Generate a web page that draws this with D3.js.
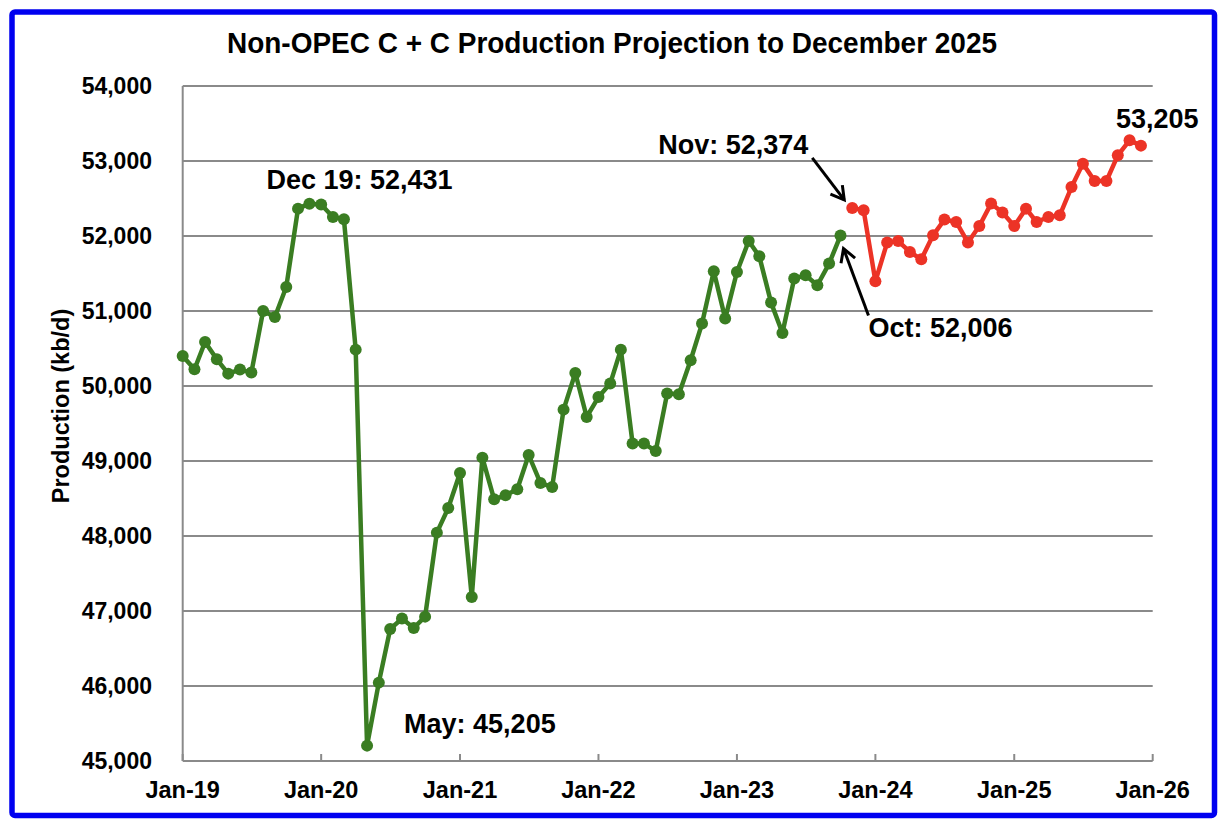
<!DOCTYPE html>
<html>
<head>
<meta charset="utf-8">
<script src="https://d3js.org/d3.v7.min.js"></script>
<style>
    body { margin: 0; background: #fff; }
    svg { display: block; }
    text { font-family: 'Liberation Sans', Arial, sans-serif; font-weight: bold; fill: #000; }
</style>
</head>
<body>
<script>
// monthly production, kb/d
const actualStart = '2019-01';
const actualValues = [
    50400, 50223, 50587, 50356, 50165, 50219, 50179, 51000, 50920, 51320, 52365, 52431,
    52419, 52253, 52223, 50485, 45205, 46045, 46760, 46899, 46773, 46925, 48045, 48373,
    48840, 47187, 49045, 48489, 48543, 48623, 49080, 48707, 48653, 49685, 50173, 49587,
    49853, 50032, 50485, 49232, 49232, 49133, 49899, 49889, 50343, 50832, 51529, 50899,
    51520, 51933, 51729, 51112, 50707, 51432, 51476, 51343, 51632, 52006
];
const projStart = '2023-11';
const projValues = [
    52374, 52343,
    51396, 51912, 51933, 51787, 51689, 52009, 52219, 52187, 51912, 52133, 52432, 52312,
    52133, 52365, 52187, 52253, 52276, 52653, 52965, 52733, 52733, 53076, 53276, 53205
];
const yTicks = [45000, 46000, 47000, 48000, 49000, 50000, 51000, 52000, 53000, 54000];
const xTickYears = [2019, 2020, 2021, 2022, 2023, 2024, 2025, 2026];

const parseMonth = d3.timeParse('%Y-%m');
function toSeries(start, values) {
    const t0 = parseMonth(start);
    return values.map((v, i) => ({ date: d3.timeMonth.offset(t0, i), value: v }));
}
const actual = toSeries(actualStart, actualValues);
const proj = toSeries(projStart, projValues);

const width = 1226, height = 828;
const svg = d3.select('body').append('svg').attr('width', width).attr('height', height);

// blue frame
svg.append('rect')
    .attr('x', 12).attr('y', 12).attr('width', 1202.5).attr('height', 803.5)
    .attr('rx', 3)
    .attr('fill', '#fff').attr('stroke', '#0000f0').attr('stroke-width', 5.5);

const x = d3.scaleTime().domain([new Date(2019, 0, 1), new Date(2026, 0, 1)]).range([182.7, 1152.7]);
const y = d3.scaleLinear().domain([45000, 54000]).range([761, 86]);

// gridlines
svg.append('g').selectAll('line').data(yTicks).join('line')
    .attr('x1', x.range()[0]).attr('x2', x.range()[1])
    .attr('y1', (d) => y(d)).attr('y2', (d) => y(d))
    .attr('stroke', '#8a8a8a').attr('stroke-width', 2);

// left axis line
svg.append('line')
    .attr('x1', x.range()[0]).attr('x2', x.range()[0])
    .attr('y1', y(45000)).attr('y2', y(54000))
    .attr('stroke', '#8a8a8a').attr('stroke-width', 2);

// x tick marks (inside)
const xTickDates = xTickYears.map((yr) => new Date(yr, 0, 1));
svg.append('g').selectAll('line').data(xTickDates).join('line')
    .attr('x1', (d) => x(d)).attr('x2', (d) => x(d))
    .attr('y1', y(45000)).attr('y2', y(45000) - 7)
    .attr('stroke', '#8a8a8a').attr('stroke-width', 2);

// tick labels
svg.append('g').selectAll('text').data(yTicks).join('text')
    .attr('x', 152).attr('y', (d) => y(d) + 8)
    .attr('text-anchor', 'end').attr('font-size', 23)
    .text((d) => d3.format(',')(d));

const fmtX = d3.timeFormat('%b-%y');
svg.append('g').selectAll('text').data(xTickDates).join('text')
    .attr('x', (d) => x(d)).attr('y', 798)
    .attr('text-anchor', 'middle').attr('font-size', 23.5)
    .text((d) => fmtX(d));

// title and axis label
svg.append('text')
    .attr('x', 612).attr('y', 53)
    .attr('text-anchor', 'middle').attr('font-size', 30)
    .attr('textLength', 770).attr('lengthAdjust', 'spacingAndGlyphs')
    .text('Non-OPEC C + C Production Projection to December 2025');

svg.append('text')
    .attr('transform', 'translate(69,406) rotate(-90)')
    .attr('text-anchor', 'middle').attr('font-size', 23.5)
    .text('Production (kb/d)');

// series
const line = d3.line().x((d) => x(d.date)).y((d) => y(d.value));
function drawSeries(data, color) {
    svg.append('path').datum(data)
        .attr('d', line).attr('fill', 'none')
        .attr('stroke', color).attr('stroke-width', 4.5).attr('stroke-linejoin', 'round');
    svg.append('g').selectAll('circle').data(data).join('circle')
        .attr('cx', (d) => x(d.date)).attr('cy', (d) => y(d.value))
        .attr('r', 6).attr('fill', color);
}
drawSeries(actual, '#3a7d22');
drawSeries(proj, '#ec3326');

// annotations
function px(p) { return [x(p.date), y(p.value)]; }
function arrow(from, to) {
    const g = svg.append('g').attr('stroke', '#000').attr('stroke-width', 3).attr('fill', 'none');
    g.append('line').attr('x1', from[0]).attr('y1', from[1]).attr('x2', to[0]).attr('y2', to[1]);
    const ang = Math.atan2(to[1] - from[1], to[0] - from[0]);
    const len = 15, spread = Math.PI / 6;
    const a1 = [to[0] - len * Math.cos(ang - spread), to[1] - len * Math.sin(ang - spread)];
    const a2 = [to[0] - len * Math.cos(ang + spread), to[1] - len * Math.sin(ang + spread)];
    g.append('path').attr('d', `M${a1[0]},${a1[1]}L${to[0]},${to[1]}L${a2[0]},${a2[1]}`)
        .attr('stroke-linejoin', 'miter');
}

const peak = px(actual[11]);
const trough = px(actual[16]);
const lastActual = px(actual[actual.length - 1]);
const firstProj = px(proj[0]);
const lastProj = px(proj[proj.length - 1]);

function label(txt, xx, yy) {
    svg.append('text').attr('x', xx).attr('y', yy).attr('font-size', 27).text(txt);
}
label('Dec 19: 52,431', peak[0] - 43, peak[1] - 15);
label('May: 45,205', trough[0] + 37, trough[1] - 13);
label('Nov: 52,374', firstProj[0] - 194, firstProj[1] - 54);
label('Oct: 52,006', lastActual[0] + 28, lastActual[1] + 101);
label('53,205', lastProj[0] - 25, lastProj[1] - 18);

arrow([firstProj[0] - 40, firstProj[1] - 50], [firstProj[0] - 8, firstProj[1] - 8]);
arrow([lastActual[0] + 28, lastActual[1] + 80], [lastActual[0] + 3, lastActual[1] + 13]);
</script>
</body>
</html>
